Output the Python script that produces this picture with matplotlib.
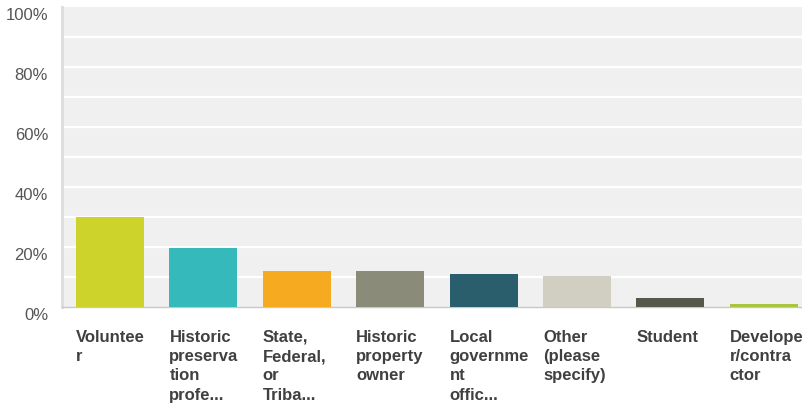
import matplotlib
matplotlib.use("Agg")
import matplotlib.pyplot as plt
import matplotlib.transforms as mtransforms

categories = [
    "Voluntee\nr",
    "Historic\npreserva\ntion\nprofe...",
    "State,\nFederal,\nor\nTriba...",
    "Historic\nproperty\nowner",
    "Local\ngovernme\nnt\noffic...",
    "Other\n(please\nspecify)",
    "Student",
    "Develope\nr/contra\nctor",
]
values = [30.0, 19.8, 12.0, 12.0, 10.9, 10.3, 2.9, 1.0]
colors = ["#cdd32b", "#35b9bb", "#f5aa1f", "#8b8b79", "#2b5e6c",
          "#d0cfc1", "#565849", "#a9c43e"]
y_ticks = [0, 20, 40, 60, 80, 100]
y_tick_labels = ["0%", "20%", "40%", "60%", "80%", "100%"]

plt.rcParams["font.family"] = ["Liberation Sans", "DejaVu Sans"]

fig = plt.figure(figsize=(8.03, 4.07), dpi=100)
W, H = 803, 407
left, right, top, bottom = 62, 803, 7, 307
ax = fig.add_axes([left / W, 1 - bottom / H, (right - left) / W, (bottom - top) / H])
ax.set_facecolor("#f0f0f0")

# white grid every 10%
for g in range(10, 100, 10):
    ax.axhline(g, color="white", lw=1.6, zorder=1)

x = list(range(len(categories)))
ax.bar(x, values, width=0.728, color=colors, zorder=3)
ax.set_xlim(-0.514, 7.42)
ax.set_ylim(0, 100)

for s in ["top", "right"]:
    ax.spines[s].set_visible(False)
ax.spines["left"].set_color("#dcdcdc")
ax.spines["left"].set_linewidth(2)
ax.spines["bottom"].set_color("#c8c8c8")
ax.spines["bottom"].set_linewidth(1)

ax.set_yticks(y_ticks)
ax.set_yticklabels(y_tick_labels, fontsize=12, color="#555555")
ax.tick_params(axis="y", length=0, pad=10)
# percentage labels sit slightly below their gridlines
offset = mtransforms.ScaledTranslation(0, -7 / 100, fig.dpi_scale_trans)
for lbl in ax.get_yticklabels():
    lbl.set_transform(lbl.get_transform() + offset)

ax.set_xticks([])
for i, lab in enumerate(categories):
    ax.text(i - 0.364, -7.6, lab, ha="left", va="top", fontsize=12,
            fontweight="bold", color="#404040", linespacing=1.36,
            clip_on=False)

fig.savefig("out.png", dpi=100, facecolor="white")
